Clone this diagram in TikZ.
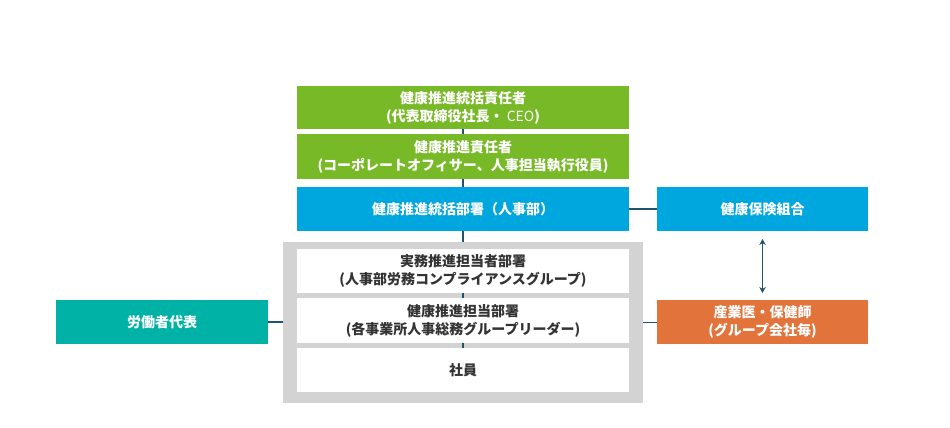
\documentclass[tikz,border=0pt]{standalone}
\usepackage{fontspec}
\setmainfont{Noto Sans CJK JP}
\usetikzlibrary{arrows.meta}
\definecolor{cgreen}{HTML}{78B928}
\definecolor{cblue}{HTML}{00A6DE}
\definecolor{cteal}{HTML}{00B2A5}
\definecolor{corange}{HTML}{E2743B}
\definecolor{cgray}{HTML}{D3D3D3}
\definecolor{cline}{HTML}{1E5472}
\definecolor{ctext}{HTML}{333333}
\begin{document}
\begin{tikzpicture}[x=1pt,y=-1pt,
  box/.style={rectangle, inner sep=0pt, outer sep=0pt, align=center, text=white,
    font=\fontsize{14}{18}\selectfont\bfseries, minimum width=332pt, minimum height=44pt},
  wbox/.style={box, fill=white, text=ctext},
  conn/.style={draw=cline, line width=1.3pt}]
\useasboundingbox (0,0) rectangle (950,428);
\fill[white] (0,0) rectangle (950,428);
\node[box, fill=cgreen, minimum height=43pt] (g1) at (463,107.5) {健康推進統括責任者\\(代表取締役社長・{\mdseries\ CEO})};
\node[box, fill=cgreen, minimum height=45pt] (g2) at (463,156.5) {健康推進責任者\\(コーポレートオフィサー、人事担当執行役員)};
\node[box, fill=cblue] (hq) at (463,209) {健康推進統括部署（人事部）};
\node[box, fill=cgray, minimum width=360pt, minimum height=161pt] (frame) at (463,322.5) {};
\node[wbox] (wa) at (463,271) {実務推進担当者部署\\(人事部労務コンプライアンスグループ)};
\node[wbox, minimum height=45pt] (wb) at (463,320.5) {健康推進担当部署\\(各事業所人事総務グループリーダー)};
\node[wbox] (wc) at (463,370) {社員};
\node[box, fill=cblue, minimum width=211pt] (kenpo) at (762.5,209) {健康保険組合};
\node[box, fill=corange, minimum width=211pt] (sangyo) at (762.5,322) {産業医・保健師\\(グループ会社毎)};
\node[box, fill=cteal, minimum width=212pt] (roudou) at (162,322) {労働者代表};
\draw[conn] (g1.south) -- (g2.north);
\draw[conn] (g2.south) -- (hq.north);
\draw[conn] (hq.south) -- (frame.north);
\draw[conn] (wa.south) -- (wb.north);
\draw[conn] (wb.south) -- (wc.north);
\draw[conn] (hq.east) -- (kenpo.west);
\draw[conn] (frame.east) -- (frame.east -| sangyo.west);
\draw[conn] (roudou.east) -- (roudou.east -| frame.west);
\draw[conn, {Stealth[length=6pt,width=6.5pt]}-{Stealth[length=6pt,width=6.5pt]}, shorten <=8pt, shorten >=7pt] (kenpo.south) -- (sangyo.north);
\end{tikzpicture}
\end{document}
